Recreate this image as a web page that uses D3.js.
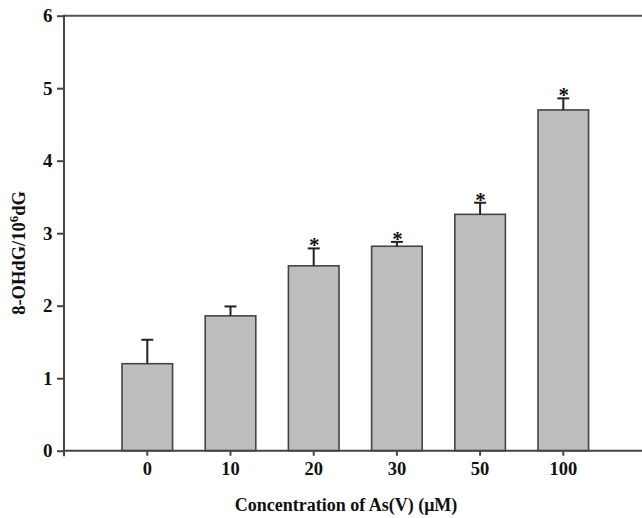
<!DOCTYPE html>
<html>
<head>
<meta charset="utf-8">
<script src="https://cdn.jsdelivr.net/npm/d3@7"></script>
<style>
  html, body { margin: 0; padding: 0; background: #fff; }
  svg { display: block; }
  text { font-family: "Liberation Serif", "Times New Roman", serif; font-weight: bold; fill: #111; }
</style>
</head>
<body>
<svg id="chart" width="642" height="518"></svg>
<script>
// 8-OHdG levels by As(V) concentration
const concentrations = ["0", "10", "20", "30", "50", "100"];
const meanValues = [1.20, 1.86, 2.55, 2.82, 3.26, 4.70];
const errorValues = [0.33, 0.13, 0.24, 0.06, 0.16, 0.16];
const significant = [false, false, true, true, true, true];
const yTicks = [0, 1, 2, 3, 4, 5, 6];

const svg = d3.select("#chart");
const W = 642, H = 518;
const plotLeft = 64, plotTop = 15.7, plotBottom = 450.7;

const x = d3.scaleBand()
  .domain(concentrations)
  .range([105.7, 604.9])
  .paddingInner(0.392)
  .paddingOuter(0.196);

const y = d3.scaleLinear().domain([0, 6]).range([plotBottom, plotTop]);

// frame: top edge runs to the right edge
svg.append("line")
  .attr("x1", plotLeft).attr("x2", W).attr("y1", y(6)).attr("y2", y(6))
  .attr("stroke", "#555").attr("stroke-width", 2);

// bars
svg.append("g").selectAll("rect")
  .data(meanValues)
  .join("rect")
  .attr("x", (d, i) => x(concentrations[i]))
  .attr("y", d => y(d))
  .attr("width", x.bandwidth())
  .attr("height", d => y(0) - y(d))
  .attr("fill", "#bebebe")
  .attr("stroke", "#444")
  .attr("stroke-width", 1.6);

// upward error bars with caps
const err = svg.append("g").attr("stroke", "#222").attr("stroke-width", 2);
meanValues.forEach((m, i) => {
  const cx = x(concentrations[i]) + x.bandwidth() / 2;
  err.append("line")
    .attr("x1", cx).attr("x2", cx)
    .attr("y1", y(m)).attr("y2", y(m + errorValues[i]));
  err.append("line")
    .attr("x1", cx - 6).attr("x2", cx + 6)
    .attr("y1", y(m + errorValues[i])).attr("y2", y(m + errorValues[i]));
});

// significance markers
svg.append("g").selectAll("text")
  .data(meanValues.map((m, i) => ({ m, i })).filter(d => significant[d.i]))
  .join("text")
  .attr("x", d => x(concentrations[d.i]) + x.bandwidth() / 2 + 0.5)
  .attr("y", d => y(d.m + errorValues[d.i]) + 4)
  .attr("text-anchor", "middle")
  .attr("font-size", 21)
  .text("*");

// y axis
const yAxis = svg.append("g")
  .attr("transform", `translate(${plotLeft},0)`)
  .call(d3.axisLeft(y).tickValues(yTicks).tickFormat(d3.format("d")).tickSize(7).tickPadding(4.5));
yAxis.select(".domain").remove();
yAxis.selectAll(".tick line").attr("stroke", "#444").attr("stroke-width", 2);
yAxis.selectAll(".tick text").attr("font-size", 19).attr("font-family", "Liberation Serif").attr("font-weight", "bold").attr("fill", "#111");
svg.append("line")
  .attr("x1", plotLeft).attr("x2", plotLeft).attr("y1", plotTop - 1).attr("y2", plotBottom + 5.5)
  .attr("stroke", "#444").attr("stroke-width", 2);

// x axis
const xAxis = svg.append("g")
  .attr("transform", `translate(0,${plotBottom})`)
  .call(d3.axisBottom(x).tickSize(5).tickPadding(6));
xAxis.select(".domain").remove();
xAxis.selectAll(".tick line").attr("stroke", "#444").attr("stroke-width", 2);
xAxis.selectAll(".tick text").attr("font-size", 18.5).attr("font-family", "Liberation Serif").attr("font-weight", "bold").attr("fill", "#111");
svg.append("line")
  .attr("x1", plotLeft - 1).attr("x2", W).attr("y1", plotBottom).attr("y2", plotBottom)
  .attr("stroke", "#444").attr("stroke-width", 2);

// axis titles
svg.append("text")
  .attr("x", 346).attr("y", 511)
  .attr("text-anchor", "middle")
  .attr("font-size", 18)
  .text("Concentration of As(V) (μM)");

const yt = svg.append("text")
  .attr("transform", "translate(25,253) rotate(-90)")
  .attr("text-anchor", "middle")
  .attr("font-size", 18.5);
yt.append("tspan").text("8-OHdG/10");
yt.append("tspan").attr("font-size", 13).attr("dy", -7).text("6");
yt.append("tspan").attr("dy", 7).text("dG");
</script>
</body>
</html>
